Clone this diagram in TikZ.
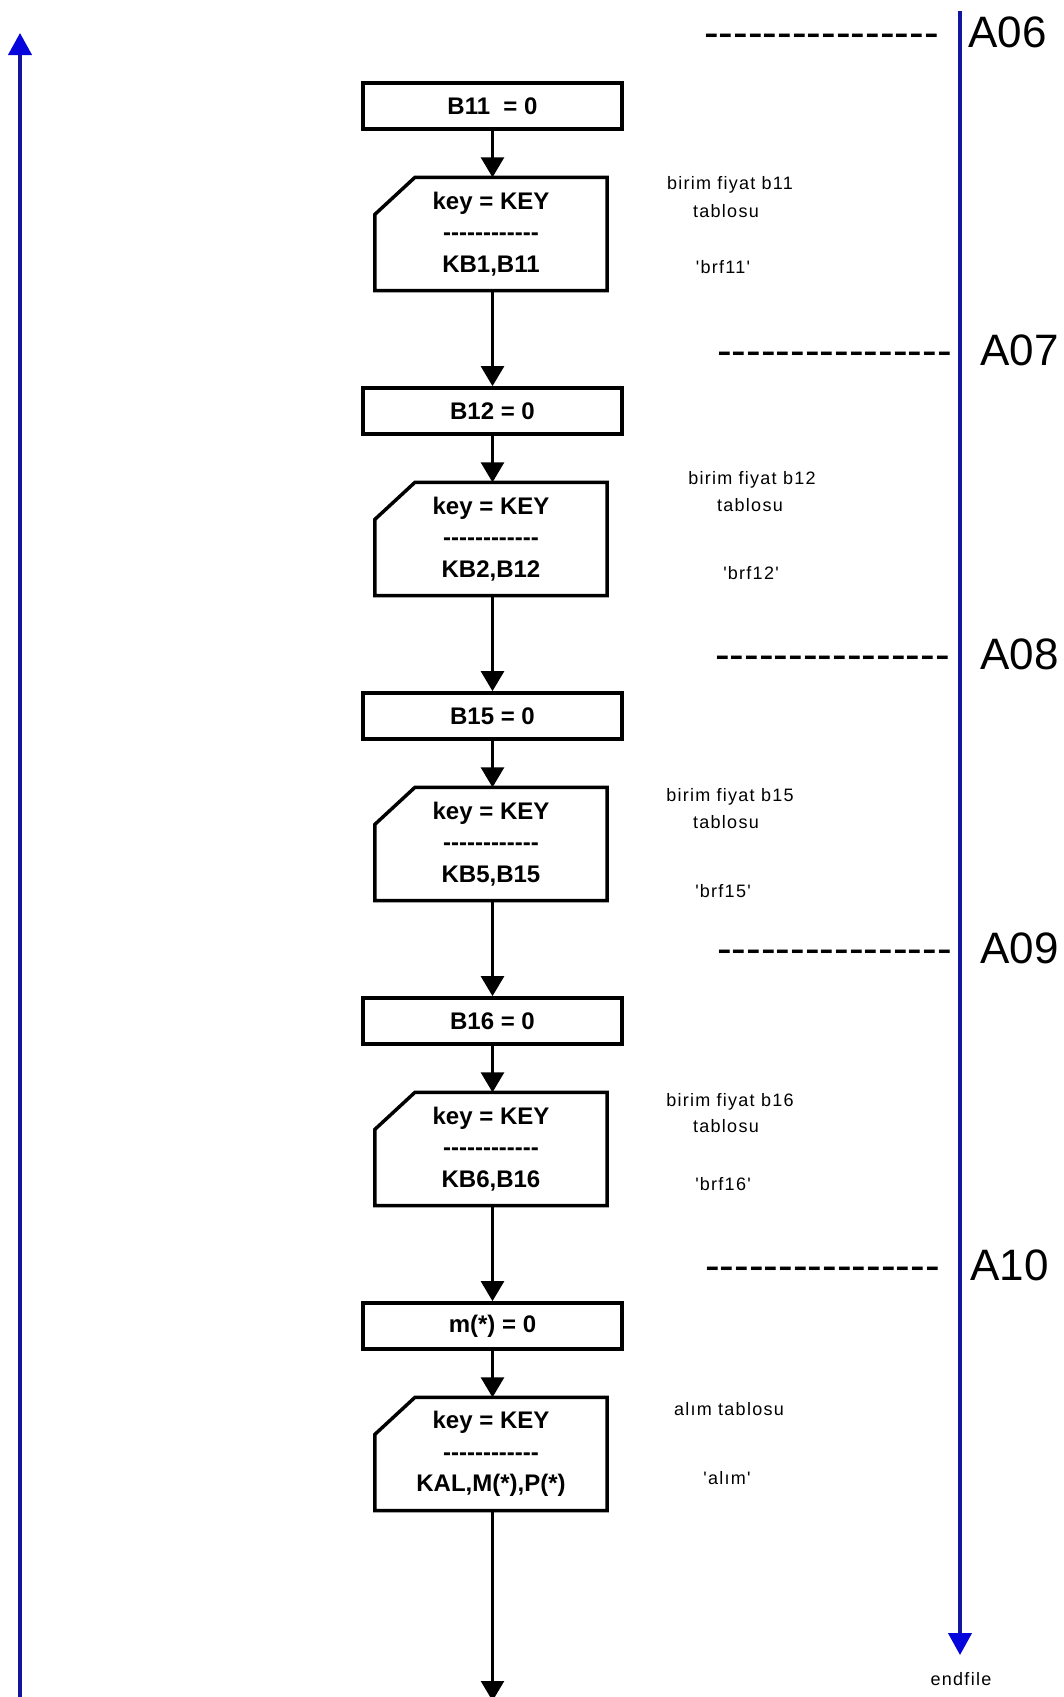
\documentclass[tikz,border=0pt]{standalone}
\usepackage{fontspec}
\newfontfamily\arialf{Liberation Sans}
\newfontfamily\smallf{Liberation Sans}[LetterSpace=7]
\usetikzlibrary{arrows.meta,calc}
\definecolor{bluel}{RGB}{20,20,160}
\definecolor{bluef}{RGB}{5,5,220}
\begin{document}
\begin{tikzpicture}[x=0.75pt,y=-0.75pt,
  proc/.style={draw, line width=2.6pt, minimum width=194pt, minimum height=34.6pt, inner sep=0pt,
    font=\arialf\bfseries\fontsize{18}{22}\selectfont},
  card/.style={minimum width=173.8pt, minimum height=84.5pt, inner sep=0pt, align=center,
    font=\arialf\bfseries\fontsize{18}{23.6}\selectfont},
  cardline/.style={line width=2.6pt, line join=miter},
  conn/.style={line width=2.6pt, -{Triangle[length=15pt,width=17pt]}},
  bluearrow/.style={draw=bluel, line width=2.4pt, -{Triangle[length=16.5pt,width=17.5pt,color=bluef]}},
  note/.style={inner sep=0pt, font=\smallf\fontsize{13.5}{16}\selectfont},
  alabel/.style={inner sep=0pt, anchor=base west, font=\arialf\fontsize{33}{40}\selectfont},
  adash/.style={inner sep=0pt, anchor=base east, font=\arialf\fontsize{33}{40}\selectfont}
]
\useasboundingbox (0,0) rectangle (1064,1697);

% blue side arrows
\coordinate (lbot) at (20,1697);
\coordinate (ltop) at (20,33);
\draw[bluearrow] (lbot) -- (ltop);
\coordinate (rtop) at (960,11);
\coordinate (rbot) at (960,1655);
\draw[bluearrow] (rtop) -- (rbot);
\node[note] (endf) at (961,1679) {endfile};

% section labels
\node[adash] (d06) at (939,47) {----------------};
\node[alabel] (a06) at (968,47) {A06};
\node[adash] (d07) at (952,365) {----------------};
\node[alabel] (a07) at (980,365) {A07};
\node[adash] (d08) at (950,669) {----------------};
\node[alabel] (a08) at (980,669) {A08};
\node[adash] (d09) at (952,963) {----------------};
\node[alabel] (a09) at (980,963) {A09};
\node[adash] (d10) at (940,1280) {----------------};
\node[alabel] (a10) at (970,1280) {A10};

% process boxes
\node[proc] (b1) at (492.5,106) {B11~ = 0};
\node[proc] (b2) at (492.5,411) {B12 = 0};
\node[proc] (b3) at (492.5,716) {B15 = 0};
\node[proc] (b4) at (492.5,1021) {B16 = 0};
\node[proc] (b5) at (492.5,1326) {m(*) = 0};

% cards
\node[card] (c1) at (491,234) {key = KEY\\------------\\KB1,B11};
\node[card] (c2) at (491,539) {key = KEY\\------------\\KB2,B12};
\node[card] (c3) at (491,844) {key = KEY\\------------\\KB5,B15};
\node[card] (c4) at (491,1149) {key = KEY\\------------\\KB6,B16};
\node[card] (c5) at (491,1454) {key = KEY\\------------\\KAL,M(*),P(*)};
\foreach \c in {c1,c2,c3,c4,c5}{
  \draw[cardline] ($(\c.north west)+(40,0)$) -- (\c.north east) -- (\c.south east)
     -- (\c.south west) -- ($(\c.north west)+(0,37)$) -- cycle;
}

% connectors
\draw[conn] (b1.south) -- (b1.south |- c1.north);
\draw[conn] (b1.south |- c1.south) -- (b2.north);
\draw[conn] (b2.south) -- (b2.south |- c2.north);
\draw[conn] (b2.south |- c2.south) -- (b3.north);
\draw[conn] (b3.south) -- (b3.south |- c3.north);
\draw[conn] (b3.south |- c3.south) -- (b4.north);
\draw[conn] (b4.south) -- (b4.south |- c4.north);
\draw[conn] (b4.south |- c4.south) -- (b5.north);
\draw[conn] (b5.south) -- (b5.south |- c5.north);
\coordinate (fend) at (492.5,1701);
\draw[conn] (b5.south |- c5.south) -- (fend);

% notes
\node[note] (n1a) at (730,185) {birim fiyat b11};
\node[note] (n1b) at (726,211) {tablosu};
\node[note] (n1c) at (723,267) {'brf11'};
\node[note] (n2a) at (752,480) {birim fiyat b12};
\node[note] (n2b) at (750,505) {tablosu};
\node[note] (n2c) at (751,573) {'brf12'};
\node[note] (n3a) at (730,797) {birim fiyat b15};
\node[note] (n3b) at (726,822) {tablosu};
\node[note] (n3c) at (723,891) {'brf15'};
\node[note] (n4a) at (730,1102) {birim fiyat b16};
\node[note] (n4b) at (726,1126) {tablosu};
\node[note] (n4c) at (723,1184) {'brf16'};
\node[note] (n5a) at (729,1409) {alım tablosu};
\node[note] (n5b) at (727,1478) {'alım'};
\end{tikzpicture}
\end{document}
